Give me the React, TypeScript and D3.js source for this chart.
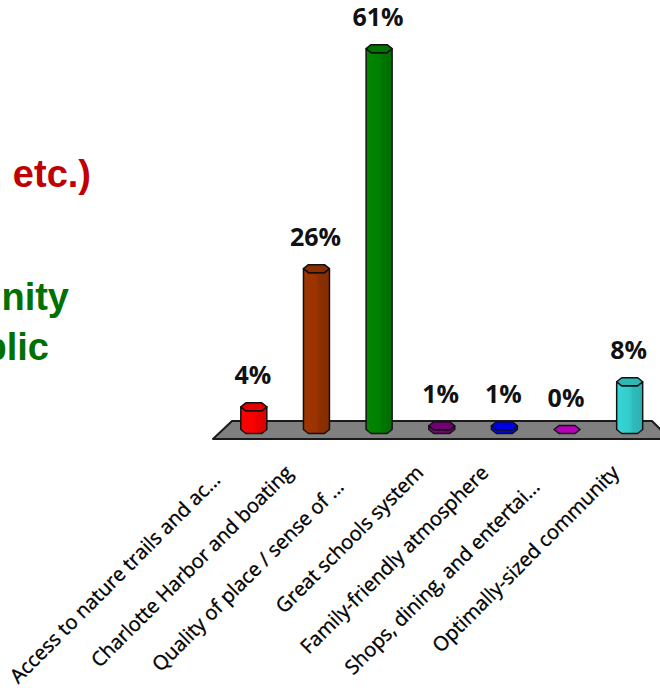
import React from "react";
import * as d3 from "d3";

const categories = [
  "Access to nature trails and ac...",
  "Charlotte Harbor and boating",
  "Quality of place / sense of ...",
  "Great schools system",
  "Family-friendly atmosphere",
  "Shops, dining, and entertai...",
  "Optimally-sized community",
];
const values = [4, 26, 61, 1, 1, 0, 8];
const valueLabels = ["4%", "26%", "61%", "1%", "1%", "0%", "8%"];
const barColors = ["#FF0000", "#993300", "#008000", "#800080", "#0000FF", "#CC00CC", "#33CCCC"];
const sideTexts = [", etc.)", "Community", "Public"];
const sideColors = ["#C00000", "#007000", "#007000"];

const W = 660;
const H = 690;

// floor geometry (layout)
const floorBackY = 421;
const floorFrontY = 439;
const floorBack: [number, number] = [232, 652];
const floorFront: [number, number] = [213, 670];
const baseY = 429.5; // bottom face centre of the bars
const barW = 26;
const ry = 4;
const inset = 5;

function prismBody(cx: number, topY: number, botY: number) {
  const l = cx - barW / 2;
  const r = cx + barW / 2;
  const p = d3.path();
  p.moveTo(l, topY);
  p.lineTo(l, botY);
  p.lineTo(l + inset, botY + ry);
  p.lineTo(r - inset, botY + ry);
  p.lineTo(r, botY);
  p.lineTo(r, topY);
  p.lineTo(r - inset, topY + ry);
  p.lineTo(l + inset, topY + ry);
  p.closePath();
  return p.toString();
}

function prismTop(cx: number, topY: number) {
  const l = cx - barW / 2;
  const r = cx + barW / 2;
  const p = d3.path();
  p.moveTo(l, topY);
  p.lineTo(l + inset, topY - ry);
  p.lineTo(r - inset, topY - ry);
  p.lineTo(r, topY);
  p.lineTo(r - inset, topY + ry);
  p.lineTo(l + inset, topY + ry);
  p.closePath();
  return p.toString();
}

export default function App() {
  const xMid = d3
    .scaleBand<string>()
    .domain(categories)
    .range([(floorBack[0] + floorFront[0]) / 2, (floorBack[1] + floorFront[1]) / 2]);
  const xFront = d3.scaleBand<string>().domain(categories).range(floorFront);
  const y = d3.scaleLinear().domain([0, 61]).range([432, 48.7]);

  const floorPath = d3.line()([
    [floorBack[0], floorBackY],
    [floorBack[1], floorBackY],
    [floorFront[1], floorFrontY],
    [floorFront[0], floorFrontY],
  ]) + "Z";

  return (
    <div style={{ position: "absolute", left: 0, top: 0 }}>
      <svg width={W} height={H} style={{ display: "block", background: "#fff" }}>
        <defs>
          {barColors.map((c, i) => {
            const col = d3.color(c)!;
            return (
              <linearGradient id={`g${i}`} key={i} x1="0" x2="1" y1="0" y2="0">
                <stop offset="0" stopColor={col.brighter(0.15).formatHex()} />
                <stop offset="0.5" stopColor={col.formatHex()} />
                <stop offset="0.62" stopColor={col.darker(0.25).formatHex()} />
                <stop offset="1" stopColor={col.darker(0.4).formatHex()} />
              </linearGradient>
            );
          })}
        </defs>

        {sideTexts.map((t, i) => (
          <text
            key={t}
            x={[91, 69, 49][i]}
            y={[187, 310, 360][i]}
            textAnchor="end"
            fontFamily="'Liberation Sans', Arial, sans-serif"
            fontWeight="bold"
            fontSize={38}
            fill={sideColors[i]}
          >
            {t}
          </text>
        ))}

        <path d={floorPath} fill="#808080" stroke="#1a1a1a" strokeWidth={2} strokeLinejoin="round" />

        {categories.map((c, i) => {
          const cx = xMid(c)! + xMid.bandwidth() / 2;
          const topY = Math.min(y(values[i]), baseY);
          const col = d3.color(barColors[i])!;
          return (
            <g key={c}>
              {topY < baseY && (
                <path
                  d={prismBody(cx, topY, baseY)}
                  fill={`url(#g${i})`}
                  stroke="#111"
                  strokeWidth={1.5}
                  strokeLinejoin="round"
                />
              )}
              <path
                d={prismTop(cx, topY)}
                fill={col.darker(0.3).formatHex()}
                stroke="#111"
                strokeWidth={1.5}
                strokeLinejoin="round"
              />
              <text
                x={cx - 1}
                y={topY - ry - 19}
                textAnchor="middle"
                fontFamily="'Open Sans', sans-serif"
                fontWeight="bold"
                fontSize={25}
                fill="#111"
              >
                {valueLabels[i]}
              </text>
            </g>
          );
        })}

        {categories.map((c, i) => {
          const ax = xFront(c)! + xFront.bandwidth() / 2 - 17;
          const ay = 474;
          const truncated = c.endsWith("...");
          return (
            <text
              key={"l" + c}
              transform={`translate(${ax},${ay}) rotate(-45)`}
              textAnchor="end"
              dx={truncated ? (i === 0 ? -10 : -20) : 0}
              fontFamily="'Open Sans', sans-serif"
              fontSize={20}
              fill="#000"
              stroke="#000"
              strokeWidth={0.35}
            >
              {c}
            </text>
          );
        })}
      </svg>
    </div>
  );
}
